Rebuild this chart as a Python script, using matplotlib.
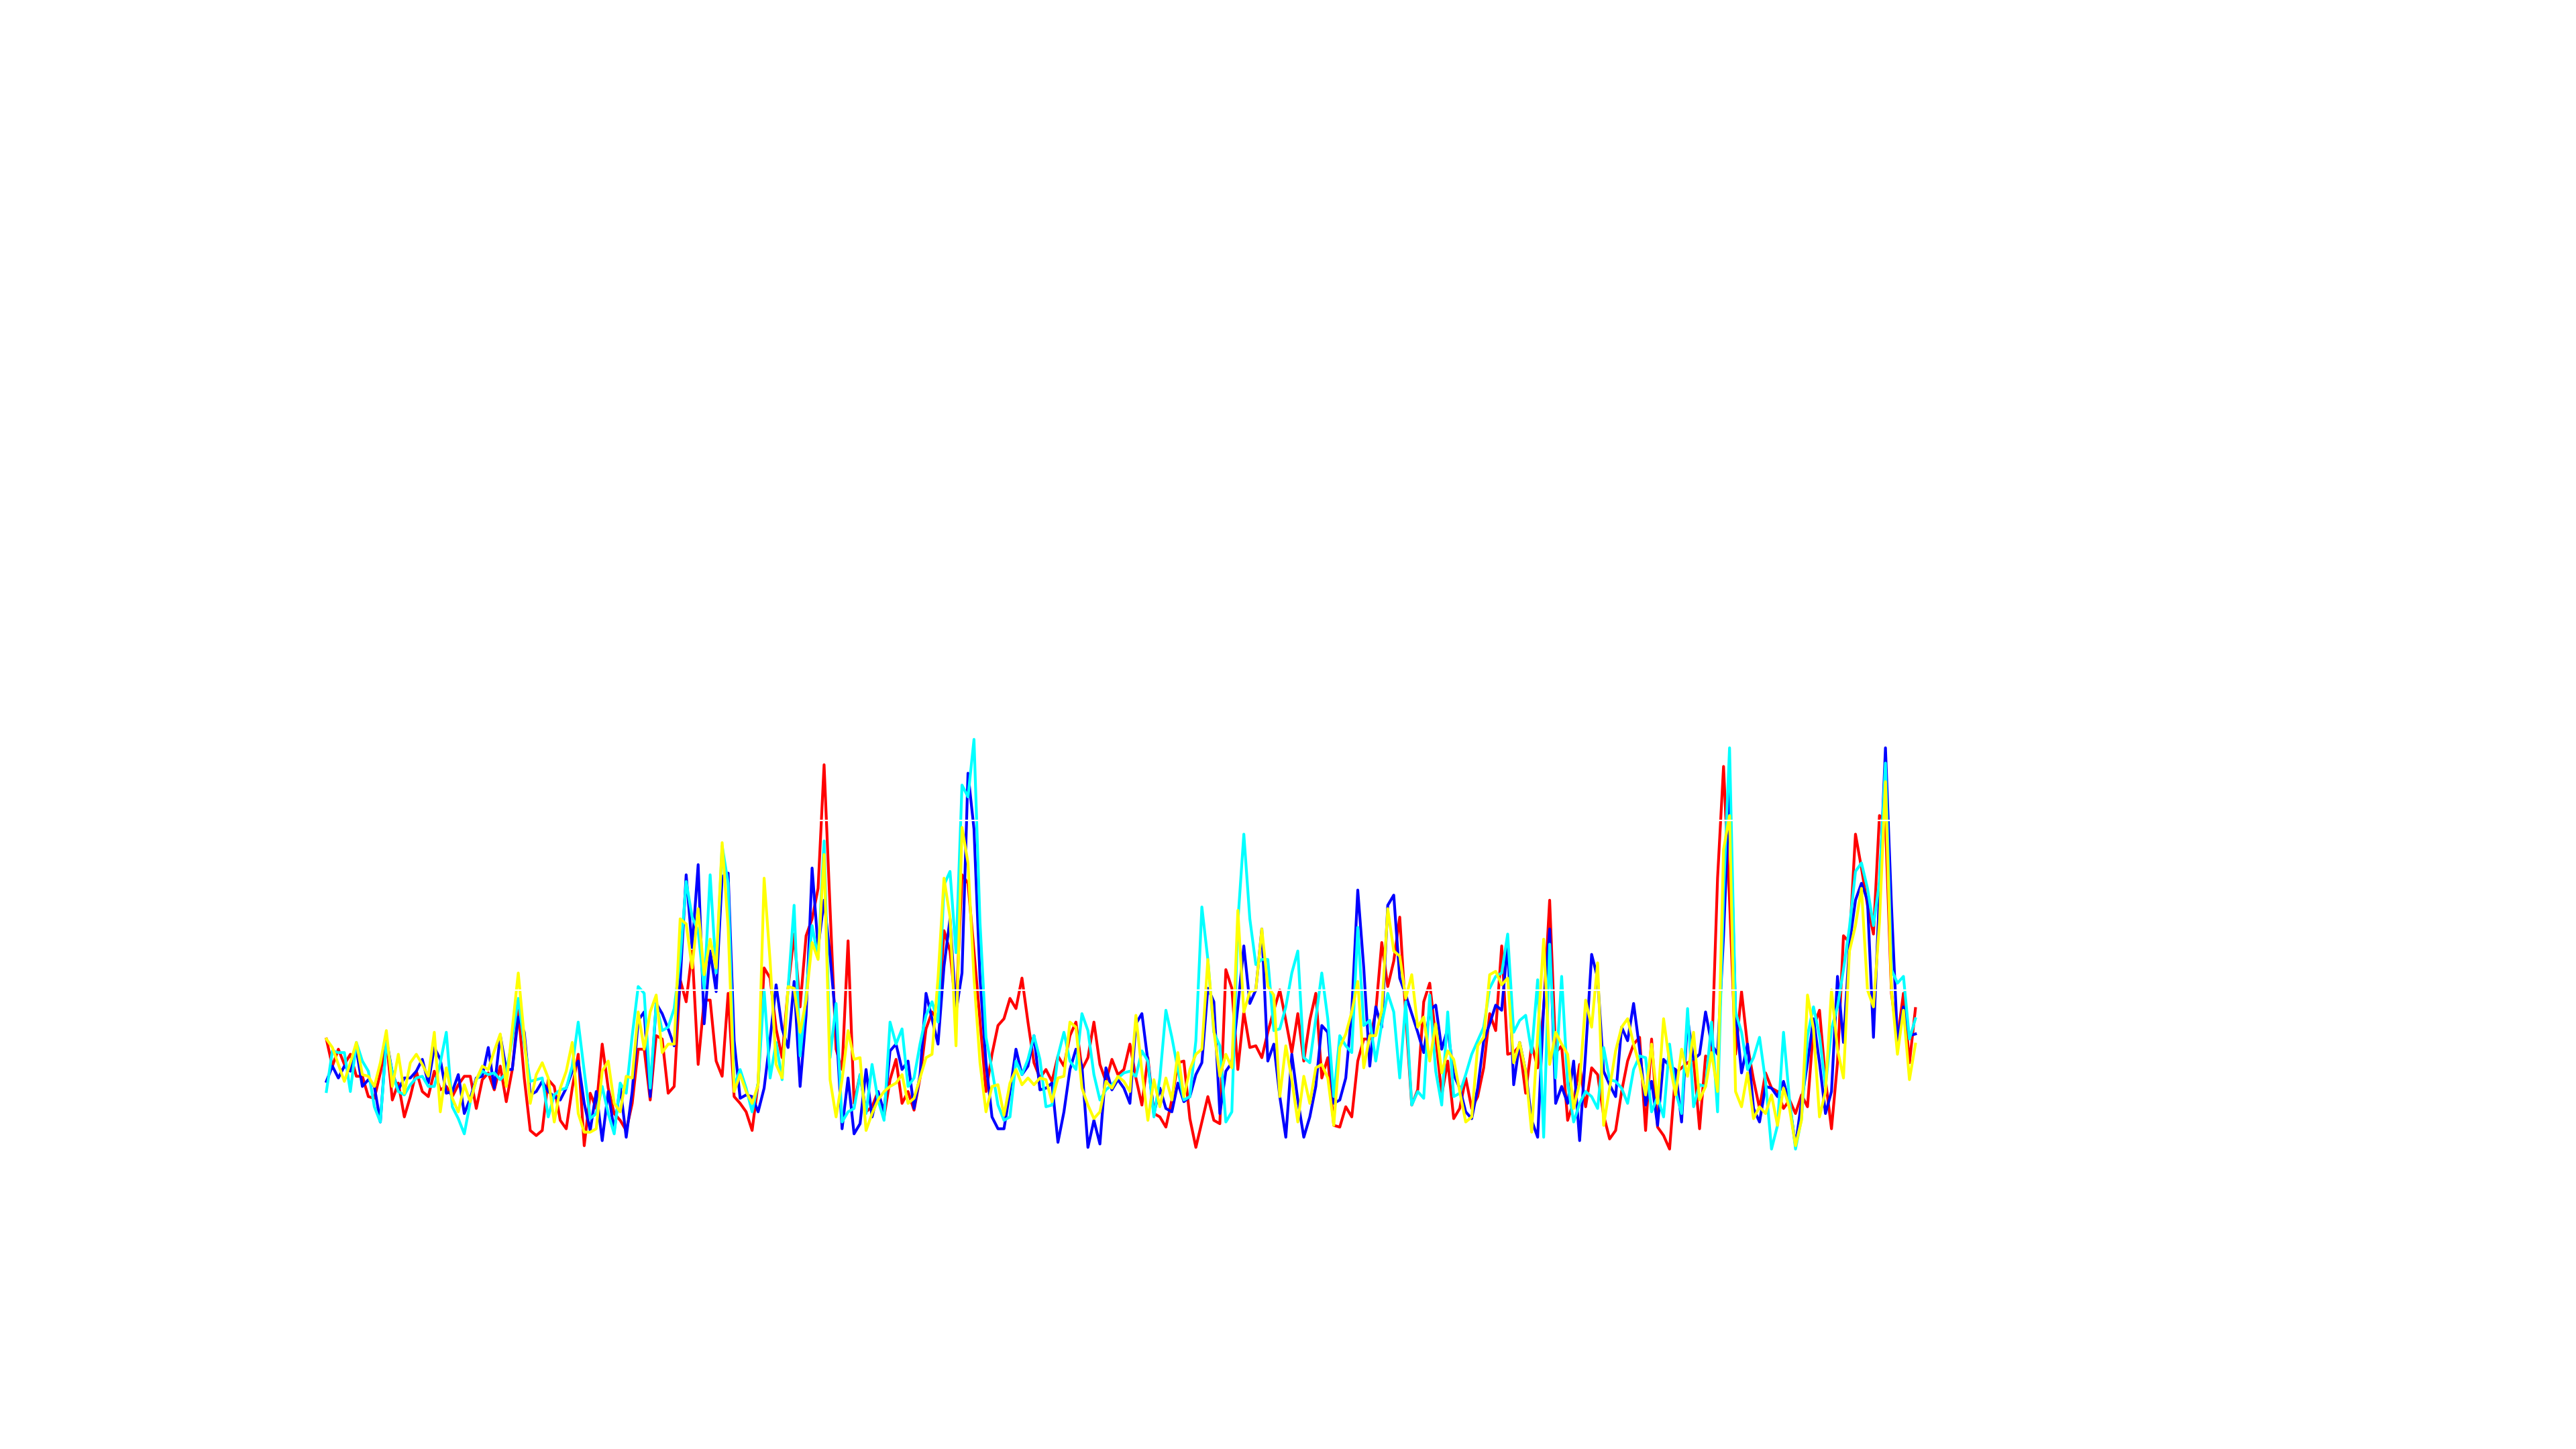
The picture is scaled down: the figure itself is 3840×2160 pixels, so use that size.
import numpy as np
import matplotlib
matplotlib.use("Agg")
import matplotlib.pyplot as plt

# four series, one value per step
red = [
    0.71, 0.55, 0.65, 0.56, 0.62, 0.49, 0.49, 0.37, 0.36, 0.51,
    0.71, 0.35, 0.45, 0.25, 0.37, 0.52, 0.40, 0.37, 0.52, 0.41,
    0.43, 0.37, 0.44, 0.49, 0.49, 0.30, 0.47, 0.51, 0.41, 0.55,
    0.34, 0.53, 0.88, 0.48, 0.17, 0.14, 0.17, 0.47, 0.43, 0.23,
    0.18, 0.42, 0.62, 0.08, 0.39, 0.30, 0.68, 0.42, 0.27, 0.23,
    0.17, 0.33, 0.65, 0.65, 0.35, 0.73, 0.71, 0.39, 0.43, 1.06,
    0.93, 1.23, 0.56, 0.94, 0.94, 0.58, 0.49, 0.98, 0.37, 0.33,
    0.28, 0.17, 0.45, 1.13, 1.07, 0.77, 0.60, 1.01, 1.33, 0.90,
    1.32, 1.42, 1.60, 2.33, 1.48, 0.65, 0.53, 1.29, 0.33, 0.50,
    0.28, 0.31, 0.40, 0.25, 0.47, 0.59, 0.33, 0.40, 0.29, 0.48,
    0.77, 0.87, 0.82, 1.35, 1.23, 0.88, 1.68, 1.63, 1.23, 0.82,
    0.40, 0.62, 0.79, 0.83, 0.95, 0.89, 1.07, 0.81, 0.57, 0.48,
    0.53, 0.46, 0.61, 0.55, 0.73, 0.81, 0.53, 0.60, 0.81, 0.56,
    0.46, 0.59, 0.50, 0.53, 0.68, 0.48, 0.32, 0.60, 0.27, 0.25,
    0.19, 0.35, 0.57, 0.58, 0.24, 0.07, 0.22, 0.37, 0.23, 0.21,
    1.12, 1.01, 0.53, 0.87, 0.66, 0.67, 0.60, 0.75, 0.88, 1.00,
    0.82, 0.63, 0.86, 0.58, 0.82, 0.98, 0.48, 0.60, 0.20, 0.19,
    0.31, 0.25, 0.58, 0.71, 0.71, 0.87, 1.28, 1.02, 1.17, 1.43,
    0.85, 0.32, 0.41, 0.93, 1.04, 0.72, 0.38, 0.58, 0.24, 0.30,
    0.48, 0.30, 0.37, 0.54, 0.86, 0.76, 1.26, 0.62, 0.63, 0.67,
    0.39, 0.68, 0.54, 0.89, 1.53, 0.63, 0.67, 0.23, 0.34, 0.56,
    0.31, 0.54, 0.50, 0.26, 0.12, 0.17, 0.40, 0.58, 0.68, 0.72,
    0.17, 0.71, 0.19, 0.14, 0.06, 0.51, 0.54, 0.57, 0.59, 0.18,
    0.61, 0.59, 1.66, 2.32, 1.53, 0.62, 0.99, 0.67, 0.47, 0.30,
    0.51, 0.42, 0.40, 0.30, 0.35, 0.27, 0.38, 0.31, 0.78, 0.88,
    0.47, 0.18, 0.57, 1.32, 1.28, 1.92, 1.72, 1.50, 1.33, 2.03,
    2.00, 0.98, 0.71, 0.98, 0.57, 0.89,
]

blue = [
    0.46, 0.55, 0.48, 0.55, 0.52, 0.65, 0.43, 0.47, 0.43, 0.22,
    0.71, 0.51, 0.41, 0.48, 0.48, 0.52, 0.59, 0.45, 0.66, 0.59,
    0.39, 0.40, 0.50, 0.27, 0.36, 0.48, 0.49, 0.66, 0.42, 0.73,
    0.53, 0.53, 0.84, 0.75, 0.38, 0.40, 0.46, 0.40, 0.37, 0.35,
    0.42, 0.52, 0.58, 0.33, 0.17, 0.40, 0.11, 0.40, 0.17, 0.43,
    0.13, 0.40, 0.82, 0.87, 0.37, 0.92, 0.86, 0.77, 0.67, 1.05,
    1.68, 1.25, 1.74, 0.80, 1.23, 0.99, 1.67, 1.69, 0.70, 0.36,
    0.38, 0.37, 0.28, 0.42, 0.71, 1.03, 0.77, 0.66, 1.05, 0.43,
    0.85, 1.72, 1.25, 1.53, 1.20, 0.80, 0.18, 0.48, 0.15, 0.21,
    0.53, 0.25, 0.40, 0.28, 0.64, 0.68, 0.53, 0.58, 0.30, 0.50,
    0.98, 0.83, 0.68, 1.14, 1.42, 0.87, 1.10, 2.28, 1.95, 1.07,
    0.57, 0.25, 0.18, 0.18, 0.40, 0.65, 0.50, 0.55, 0.73, 0.41,
    0.42, 0.45, 0.10, 0.28, 0.53, 0.65, 0.55, 0.07, 0.23, 0.09,
    0.54, 0.41, 0.47, 0.42, 0.33, 0.80, 0.86, 0.58, 0.27, 0.42,
    0.30, 0.28, 0.45, 0.34, 0.37, 0.50, 0.57, 1.01, 0.93, 0.27,
    0.52, 0.57, 0.90, 1.26, 0.92, 1.00, 1.36, 0.58, 0.68, 0.37,
    0.13, 0.62, 0.35, 0.13, 0.25, 0.43, 0.79, 0.75, 0.33, 0.35,
    0.48, 0.88, 1.59, 1.13, 0.55, 0.90, 0.78, 1.50, 1.56, 1.07,
    0.97, 0.86, 0.75, 0.63, 0.88, 0.91, 0.65, 0.77, 0.50, 0.42,
    0.28, 0.24, 0.42, 0.70, 0.80, 0.91, 0.88, 1.28, 0.44, 0.69,
    0.52, 0.23, 0.13, 0.90, 1.36, 0.33, 0.43, 0.33, 0.58, 0.11,
    0.63, 1.21, 1.07, 0.52, 0.44, 0.37, 0.78, 0.70, 0.92, 0.65,
    0.32, 0.46, 0.20, 0.59, 0.55, 0.53, 0.22, 0.83, 0.59, 0.62,
    0.87, 0.68, 0.62, 1.32, 2.19, 0.87, 0.51, 0.68, 0.30, 0.22,
    0.43, 0.42, 0.37, 0.46, 0.33, 0.08, 0.34, 0.57, 0.83, 0.57,
    0.27, 0.40, 1.08, 0.69, 1.27, 1.53, 1.63, 1.53, 0.72, 1.58,
    2.43, 1.50, 0.70, 0.90, 0.73, 0.74,
]

cyan = [
    0.40, 0.64, 0.63, 0.63, 0.40, 0.69, 0.58, 0.52, 0.31, 0.22,
    0.69, 0.51, 0.40, 0.38, 0.44, 0.48, 0.49, 0.43, 0.43, 0.57,
    0.75, 0.31, 0.24, 0.15, 0.34, 0.47, 0.52, 0.50, 0.51, 0.47,
    0.51, 0.71, 0.95, 0.68, 0.46, 0.47, 0.48, 0.25, 0.38, 0.41,
    0.42, 0.55, 0.81, 0.52, 0.24, 0.27, 0.43, 0.27, 0.15, 0.45,
    0.39, 0.73, 1.02, 0.98, 0.42, 0.92, 0.76, 0.78, 0.89, 1.18,
    1.64, 1.43, 1.35, 1.00, 1.68, 1.10, 1.85, 1.63, 0.43, 0.53,
    0.42, 0.28, 0.45, 1.00, 0.48, 0.69, 0.47, 1.01, 1.50, 0.61,
    0.97, 1.38, 1.19, 1.88, 0.60, 0.92, 0.22, 0.28, 0.30, 0.50,
    0.27, 0.56, 0.35, 0.23, 0.81, 0.68, 0.77, 0.43, 0.48, 0.68,
    0.85, 0.93, 0.81, 1.62, 1.70, 1.22, 2.21, 2.14, 2.48, 1.40,
    0.72, 0.53, 0.32, 0.23, 0.25, 0.58, 0.50, 0.59, 0.73, 0.59,
    0.31, 0.32, 0.61, 0.75, 0.58, 0.53, 0.86, 0.76, 0.50, 0.35,
    0.41, 0.44, 0.48, 0.51, 0.52, 0.49, 0.64, 0.58, 0.25, 0.48,
    0.88, 0.72, 0.53, 0.35, 0.37, 0.70, 1.49, 1.18, 0.75, 0.67,
    0.22, 0.28, 1.40, 1.92, 1.42, 1.15, 1.18, 1.18, 0.76, 0.77,
    0.90, 1.10, 1.23, 0.60, 0.57, 0.83, 1.10, 0.83, 0.37, 0.73,
    0.67, 0.63, 1.37, 0.79, 0.82, 0.58, 0.80, 0.98, 0.87, 0.48,
    0.93, 0.32, 0.40, 0.36, 0.97, 0.52, 0.32, 0.87, 0.37, 0.39,
    0.50, 0.62, 0.70, 0.78, 1.01, 1.08, 1.10, 1.33, 0.75, 0.82,
    0.85, 0.63, 1.06, 0.13, 1.27, 0.48, 1.08, 0.45, 0.22, 0.33,
    0.40, 0.37, 0.30, 0.66, 0.47, 0.46, 0.42, 0.33, 0.53, 0.61,
    0.60, 0.28, 0.37, 0.25, 0.68, 0.40, 0.27, 0.89, 0.31, 0.44,
    0.43, 0.81, 0.28, 1.57, 2.43, 0.87, 0.75, 0.53, 0.60, 0.72,
    0.46, 0.06, 0.20, 0.75, 0.35, 0.06, 0.24, 0.73, 0.90, 0.73,
    0.43, 0.77, 0.90, 1.12, 1.37, 1.70, 1.75, 1.60, 1.38, 1.64,
    2.34, 1.12, 1.04, 1.08, 0.71, 0.83,
]

yellow = [
    0.71, 0.66, 0.56, 0.46, 0.57, 0.69, 0.50, 0.49, 0.43, 0.57,
    0.76, 0.43, 0.62, 0.39, 0.57, 0.62, 0.56, 0.49, 0.75, 0.28,
    0.54, 0.36, 0.28, 0.44, 0.34, 0.47, 0.55, 0.53, 0.64, 0.74,
    0.43, 0.77, 1.10, 0.72, 0.33, 0.50, 0.57, 0.48, 0.22, 0.42,
    0.52, 0.69, 0.27, 0.16, 0.16, 0.18, 0.52, 0.58, 0.33, 0.28,
    0.49, 0.48, 0.87, 0.65, 0.87, 0.97, 0.63, 0.68, 0.68, 1.42,
    1.39, 1.13, 1.48, 1.09, 1.30, 1.13, 1.87, 1.37, 0.40, 0.50,
    0.40, 0.33, 0.44, 1.66, 1.17, 0.56, 0.48, 1.02, 1.01, 0.75,
    0.94, 1.28, 1.18, 1.80, 0.47, 0.25, 0.47, 0.76, 0.59, 0.60,
    0.17, 0.27, 0.35, 0.40, 0.43, 0.45, 0.50, 0.33, 0.36, 0.48,
    0.60, 0.62, 1.07, 1.66, 1.43, 0.67, 1.96, 1.75, 1.07, 0.57,
    0.28, 0.43, 0.44, 0.26, 0.45, 0.53, 0.44, 0.48, 0.44, 0.48,
    0.47, 0.34, 0.48, 0.49, 0.81, 0.78, 0.42, 0.32, 0.24, 0.28,
    0.46, 0.42, 0.49, 0.46, 0.40, 0.85, 0.52, 0.23, 0.47, 0.31,
    0.48, 0.35, 0.63, 0.37, 0.53, 0.62, 0.65, 1.18, 0.76, 0.49,
    0.62, 0.54, 1.47, 0.87, 0.99, 1.00, 1.36, 1.02, 0.97, 0.37,
    0.67, 0.47, 0.22, 0.49, 0.33, 0.54, 0.56, 0.48, 0.20, 0.66,
    0.74, 0.87, 1.05, 0.54, 0.73, 0.73, 0.88, 1.48, 1.23, 1.20,
    0.95, 1.09, 0.78, 0.84, 0.58, 0.80, 0.51, 0.64, 0.59, 0.40,
    0.22, 0.25, 0.67, 0.72, 1.09, 1.11, 1.03, 1.07, 0.57, 0.69,
    0.52, 0.16, 0.73, 1.30, 0.56, 0.75, 0.68, 0.62, 0.30, 0.45,
    0.94, 0.78, 1.16, 0.20, 0.42, 0.64, 0.78, 0.83, 0.68, 0.55,
    0.38, 0.68, 0.33, 0.83, 0.57, 0.38, 0.65, 0.49, 0.75, 0.35,
    0.43, 0.63, 0.40, 1.83, 2.03, 0.40, 0.31, 0.51, 0.24, 0.31,
    0.27, 0.38, 0.20, 0.42, 0.30, 0.08, 0.23, 0.97, 0.77, 0.25,
    0.40, 1.00, 0.65, 0.48, 1.23, 1.38, 1.60, 1.00, 0.90, 1.40,
    2.23, 1.00, 0.62, 0.88, 0.47, 0.68,
]

series = [(red, 'red'), (blue, 'blue'), (cyan, 'cyan'), (yellow, 'yellow')]

fig = plt.figure(figsize=(19.2, 10.8), dpi=200, facecolor='white')
ax = fig.add_axes([0.125, 0.11, 0.775, 0.77])
ax.set_facecolor('white')

for vals, col in series:
    x = np.arange(len(vals))
    ax.plot(x, vals, color=col, lw=1.5)

ax.set_xlim(-0.73, 332.2)
ax.set_ylim(-0.77, 5.82)

# white grid drawn over the lines
ax.set_axisbelow(False)
ax.set_yticks([0, 1, 2, 3, 4, 5])
ax.yaxis.grid(True, color='white', lw=0.8)
ax.xaxis.grid(False)
ax.tick_params(length=0, labelleft=False, labelbottom=False)
for s in ax.spines.values():
    s.set_visible(False)

fig.savefig('out.png', dpi=200, facecolor='white')
